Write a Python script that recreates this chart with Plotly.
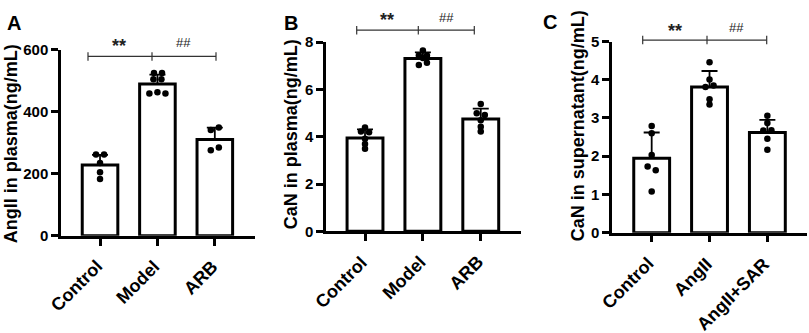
import plotly.graph_objects as go

W, H = 809, 333

# ---------------- data ----------------
cats_a = ["Control", "Model", "ARB"]
mean_a = [228, 490, 311]
sd_a = [33, 30, 38]
pts_a = [[262, 262, 235, 205, 183],
         [525, 525, 505, 505, 459, 463, 459],
         [341, 349, 276, 285]]
jit_a = [[-0.07, 0.07, 0, 0, 0],
         [-0.06, 0.08, -0.07, 0.07, -0.14, 0.0, 0.14],
         [-0.07, 0.07, -0.07, 0.07]]

cats_b = ["Control", "Model", "ARB"]
mean_b = [3.95, 7.31, 4.75]
sd_b = [0.36, 0.26, 0.44]
pts_b = [[4.39, 4.22, 4.19, 3.92, 3.69, 3.49],
         [7.65, 7.44, 7.44, 7.33, 7.04, 7.13],
         [5.39, 4.99, 4.92, 4.70, 4.42, 4.22]]
jit_b = [[0, -0.07, 0.07, 0, 0, 0],
         [0, -0.07, 0.07, 0, -0.07, 0.07],
         [0, -0.07, 0.07, 0, 0, 0]]

cats_c = ["Control", "AngII", "AngII+SAR"]
mean_c = [1.95, 3.81, 2.62]
sd_c = [0.67, 0.42, 0.33]
pts_c = [[2.79, 2.60, 2.03, 1.73, 1.63, 1.08],
         [4.46, 4.01, 3.81, 3.85, 3.49, 3.35],
         [3.06, 2.87, 2.67, 2.68, 2.46, 2.17]]
jit_c = [[0, 0, 0, -0.07, 0.07, 0],
         [0, 0, -0.07, 0.07, 0, 0],
         [0, 0, -0.07, 0.07, 0, 0]]

titles = ["AngII in plasma(ng/mL)", "CaN in plasma(ng/mL)", "CaN in supernatant(ng/mL)"]
letters = ["A", "B", "C"]

# ---------------- layout geometry (pixels) ----------------
panels = [
    dict(cats=cats_a, mean=mean_a, sd=sd_a, pts=pts_a, jit=jit_a,
         xpx=(61, 255), ypx=(239, 43), xr=[-0.68, 2.70], yr=[0, 600], dt=200,
         brk=dict(y=50, x0=88, xm=152, x1=216, s=(119, 36), h=(183, 35)),
         letter=(13.5, 14.5), title=(11, 142.5)),
    dict(cats=cats_b, mean=mean_b, sd=sd_b, pts=pts_b, jit=jit_b,
         xpx=(326, 520.7), ypx=(234.3, 35), xr=[-0.674, 2.69], yr=[0, 8], dt=2,
         brk=dict(y=22.3, x0=356.7, xm=418.3, x1=474.3, s=(387, 9), h=(446, 8.5)),
         letter=(290.5, 14.5), title=(290.5, 132.5)),
    dict(cats=cats_c, mean=mean_c, sd=sd_c, pts=pts_c, jit=jit_c,
         xpx=(612, 806.7), ypx=(235.7, 34.3), xr=[-0.686, 2.68], yr=[0, 5], dt=1,
         brk=dict(y=32.7, x0=642.7, xm=707, x1=766.7, s=(675, 20.5), h=(736, 20)),
         letter=(550, 13.5), title=(577.5, 123)),
]

FONT = "Arial"
fig = go.Figure()
shapes = []
annotations = []

def px(x):
    return x / W

def py(y):
    return 1 - y / H

for k, p in enumerate(panels):
    sfx = "" if k == 0 else str(k + 1)
    xa, ya = "x" + sfx, "y" + sfx
    xs = [0, 1, 2]
    fig.add_trace(go.Bar(
        x=xs, y=p["mean"], width=0.62, xaxis=xa, yaxis=ya,
        marker=dict(color="white", line=dict(color="black", width=3)),
        error_y=dict(type="data", array=p["sd"], arrayminus=[0, 0, 0], symmetric=False,
                     color="black", thickness=1.8, width=8),
        showlegend=False, hoverinfo="skip"))
    for i in range(3):
        fig.add_trace(go.Scatter(
            x=[i + j for j in p["jit"][i]], y=p["pts"][i], mode="markers",
            xaxis=xa, yaxis=ya, cliponaxis=False,
            marker=dict(color="black", size=6.5, line=dict(width=0)),
            showlegend=False, hoverinfo="skip"))

    axis_common = dict(showline=True, linecolor="black", linewidth=2.5, ticks="outside",
                       ticklen=7, tickwidth=2.5, tickcolor="black", showgrid=False,
                       zeroline=False, fixedrange=True)
    fig.layout["xaxis" + sfx] = dict(
        domain=[px(p["xpx"][0]), px(p["xpx"][1])], range=p["xr"], anchor=ya,
        tickvals=xs, showticklabels=False, **axis_common)
    yticks = [v * p["dt"] for v in range(int(p["yr"][1] / p["dt"]) + 1)]
    fig.layout["yaxis" + sfx] = dict(
        domain=[py(p["ypx"][0]), py(p["ypx"][1])], range=p["yr"], anchor=xa,
        tickvals=yticks, tickfont=dict(family=FONT, size=15, color="black", weight="bold"),
        **axis_common)

    # rotated category labels, anchored at their tick
    x0p, x1p = px(p["xpx"][0]), px(p["xpx"][1])
    r0, r1 = p["xr"]
    for i, c in enumerate(p["cats"]):
        xpaper = x0p + (xs[i] - r0) / (r1 - r0) * (x1p - x0p)
        annotations.append(dict(text=c, xref="paper", yref="paper", textangle=-45,
                                x=xpaper + px(9), y=py(p["ypx"][0] + 19),
                                xanchor="right", yanchor="top", showarrow=False,
                                font=dict(family=FONT, size=18, color="black", weight="bold")))

    b = p["brk"]
    lc = dict(color="#333333", width=1.2)
    shapes.append(dict(type="line", xref="paper", yref="paper", x0=px(b["x0"]), x1=px(b["x1"]),
                       y0=py(b["y"]), y1=py(b["y"]), line=lc))
    for xx in (b["x0"], b["xm"], b["x1"]):
        shapes.append(dict(type="line", xref="paper", yref="paper", x0=px(xx), x1=px(xx),
                           y0=py(b["y"] - 4.5), y1=py(b["y"] + 4.5), line=lc))
    annotations.append(dict(text="**", xref="paper", yref="paper", x=px(b["s"][0]), y=py(b["s"][1] + 3),
                            showarrow=False, xanchor="center", yanchor="middle",
                            font=dict(family=FONT, size=18, color="#222", weight="bold")))
    annotations.append(dict(text="##", xref="paper", yref="paper", x=px(b["h"][0]), y=py(b["h"][1]),
                            showarrow=False, xanchor="center", yanchor="middle",
                            font=dict(family=FONT, size=13, color="#222")))
    annotations.append(dict(text=letters[k], xref="paper", yref="paper",
                            x=px(p["letter"][0]), y=py(p["letter"][1]),
                            showarrow=False, xanchor="center", yanchor="middle",
                            font=dict(family=FONT, size=20, color="black", weight="bold")))
    annotations.append(dict(text=titles[k], xref="paper", yref="paper", textangle=-90,
                            x=px(p["title"][0]), y=py(p["title"][1]),
                            showarrow=False, xanchor="center", yanchor="middle",
                            font=dict(family=FONT, size=18, color="black", weight="bold")))

fig.update_layout(width=W, height=H, margin=dict(l=0, r=0, t=0, b=0),
                  paper_bgcolor="white", plot_bgcolor="white",
                  shapes=shapes, annotations=annotations, bargap=0.3)
fig.write_html("out.html", config={"displayModeBar": False},
               post_script="document.body.style.margin='0';document.body.style.overflow='hidden';")
